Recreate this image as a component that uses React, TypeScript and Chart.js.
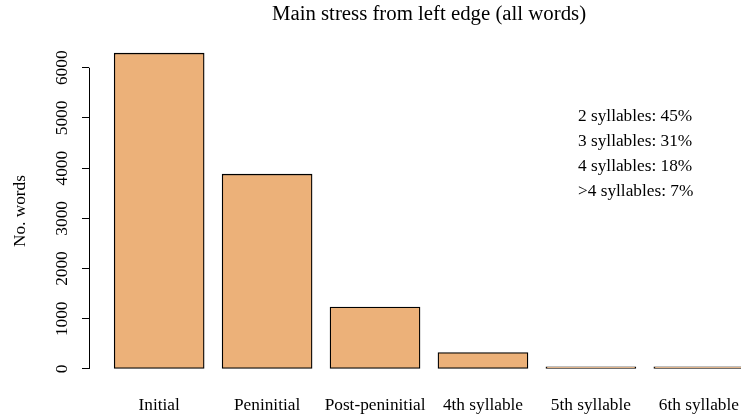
import React, { useEffect, useRef } from "react";
import { Chart, registerables } from "chart.js";

Chart.register(...registerables);

const categories = ["Initial", "Peninitial", "Post-peninitial", "4th syllable", "5th syllable", "6th syllable"];
const counts = [6290, 3880, 1235, 325, 45, 15];
const yTicks = [0, 1000, 2000, 3000, 4000, 5000, 6000];
const notes = ["2 syllables: 45%", "3 syllables: 31%", "4 syllables: 18%", ">4 syllables: 7%"];

const FONT = "'Liberation Serif', 'Times New Roman', serif";
const BAR_FILL = "#ECB179";

export default function App() {
  const ref = useRef<HTMLCanvasElement | null>(null);

  useEffect(() => {
    const canvas = ref.current;
    if (!canvas) return;
    const centers = categories.map((_, i) => 0.7 + 1.2 * i);
    const ymax = Math.max(...counts);

    const extras = {
      id: "extras",
      afterDraw(chart: any) {
        const ctx = chart.ctx;
        const y = chart.scales.y;
        const x = chart.scales.x;
        const axX = Math.round(x.left);
        ctx.save();
        ctx.strokeStyle = "#000";
        ctx.lineWidth = 1;
        ctx.beginPath();
        ctx.moveTo(axX + 0.5, y.getPixelForValue(yTicks[0]));
        ctx.lineTo(axX + 0.5, y.getPixelForValue(yTicks[yTicks.length - 1]));
        ctx.stroke();
        ctx.fillStyle = "#000";
        ctx.font = `17.3px ${FONT}`;
        ctx.textAlign = "center";
        ctx.textBaseline = "middle";
        for (const t of yTicks) {
          const py = y.getPixelForValue(t);
          ctx.save();
          ctx.translate(62, py);
          ctx.rotate(-Math.PI / 2);
          ctx.fillText(String(t), 0, 0);
          ctx.restore();
        }
        ctx.textAlign = "left";
        notes.forEach((n, i) => {
          ctx.fillText(n, 578, 116 + i * 25);
        });
        ctx.restore();
      },
    };

    const chart = new Chart(canvas, {
      type: "bar",
      data: {
        datasets: [
          {
            data: counts.map((v, i) => ({ x: centers[i], y: v })),
            backgroundColor: BAR_FILL,
            borderColor: "#000",
            borderWidth: 1.3,
            borderSkipped: false,
            barThickness: 90,
            minBarLength: 2.2,
          } as any,
        ],
      },
      options: {
        animation: false,
        responsive: false,
        devicePixelRatio: 1,
        layout: { padding: { left: 0, right: 9, top: 0, bottom: 0 } },
        plugins: {
          legend: { display: false },
          tooltip: { enabled: false },
          title: {
            display: true,
            text: "Main stress from left edge (all words)",
            fullSize: false,
            color: "#000",
            font: { family: FONT, size: 20.8, weight: "normal" },
            padding: { top: 2, bottom: 13.6 },
          },
        },
        scales: {
          x: {
            type: "linear",
            offset: false,
            min: -0.08,
            max: 7.48,
            grid: { display: false, drawTicks: false, offset: false },
            border: { display: false },
            afterBuildTicks: (s: any) => {
              s.ticks = centers.map((v) => ({ value: v }));
            },
            afterFit: (s: any) => {
              s.height = 416 - 381.6;
            },
            ticks: {
              autoSkip: false,
              maxRotation: 0,
              minRotation: 0,
              padding: 13,
              color: "#000",
              font: { family: FONT, size: 17.3 },
              callback: (v: any) => {
                const i = centers.findIndex((c) => Math.abs(c - Number(v)) < 1e-6);
                return i >= 0 ? categories[i] : "";
              },
            },
          },
          y: {
            type: "linear",
            min: -0.04 * ymax,
            max: ymax * 1.04,
            afterBuildTicks: (s: any) => {
              s.ticks = yTicks.map((v) => ({ value: v }));
            },
            afterFit: (s: any) => {
              s.width = 89;
            },
            grid: {
              display: true,
              drawOnChartArea: false,
              drawTicks: true,
              tickLength: 7,
              color: "#000",
              lineWidth: 1,
            },
            border: { display: false },
            ticks: { display: false },
            title: {
              display: true,
              text: "No. words",
              color: "#000",
              font: { family: FONT, size: 17.3 },
              padding: { top: 10, bottom: 0 },
            },
          },
        },
      },
      plugins: [extras],
    } as any);

    return () => chart.destroy();
  }, []);

  return (
    <div style={{ position: "fixed", left: 0, top: 0, width: 741, height: 416, overflow: "hidden", background: "#fff" }}>
      <canvas ref={ref} width={778} height={416} style={{ width: 778, height: 416, display: "block" }} />
    </div>
  );
}
